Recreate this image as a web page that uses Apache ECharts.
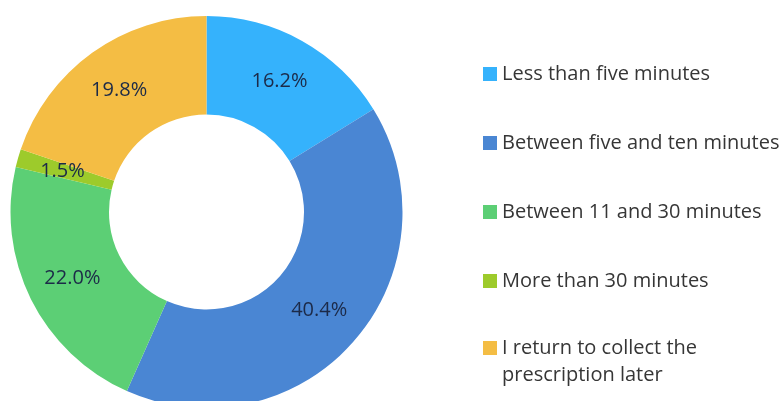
<!DOCTYPE html>
<html>
<head>
<meta charset="utf-8">
<script src="https://cdn.jsdelivr.net/npm/echarts@6/dist/echarts.min.js"></script>
<style>html,body{margin:0;padding:0;background:#fff}#c{width:781px;height:401px}</style>
</head>
<body>
<div id="c"></div>
<script>
var categories = ["Less than five minutes", "Between five and ten minutes", "Between 11 and 30 minutes", "More than 30 minutes", "I return to collect the prescription later"];
var values = [16.2, 40.4, 22.0, 1.5, 19.8];
var colors = ["#35b2fc", "#4a86d3", "#5ccf75", "#9dcb2b", "#f4bd44"];
var legendLabels = ["Less than five minutes", "Between five and ten minutes", "Between 11 and 30 minutes", "More than 30 minutes", " \nI return to collect the\nprescription later"];

var legendText = {fontFamily: 'Open Sans', fontSize: 20, color: '#363636', lineHeight: 27};
function fmt(n) { return legendLabels[categories.indexOf(n)]; }

var chart = echarts.init(document.getElementById('c'), null, {renderer: 'canvas'});
chart.setOption({
  animation: false,
  color: colors,
  legend: [{
    orient: 'vertical',
    left: 483,
    top: 60.5,
    padding: 0,
    itemWidth: 14,
    itemHeight: 14,
    itemGap: 42,
    icon: 'rect',
    data: categories.slice(0, 4),
    formatter: fmt,
    textStyle: legendText,
    selectedMode: false
  }, {
    orient: 'vertical',
    left: 483,
    top: 307.5,
    padding: 0,
    itemWidth: 14,
    itemHeight: 14,
    icon: 'rect',
    data: [categories[4]],
    formatter: fmt,
    textStyle: legendText,
    selectedMode: false
  }],
  series: [{
    type: 'pie',
    center: [206.5, 212],
    radius: [97.5, 196],
    startAngle: 90,
    clockwise: true,
    avoidLabelOverlap: false,
    label: {
      show: true,
      position: 'inside',
      formatter: function (p) { return p.value.toFixed(1) + '%'; },
      fontFamily: 'Open Sans',
      fontSize: 20,
      color: '#1c2a48',
      padding: [4, 0, 0, 0]
    },
    labelLine: {show: false},
    itemStyle: {borderWidth: 0},
    emphasis: {disabled: true},
    data: categories.map(function (c, i) { return {name: c, value: values[i]}; })
  }]
});
</script>
</body>
</html>
